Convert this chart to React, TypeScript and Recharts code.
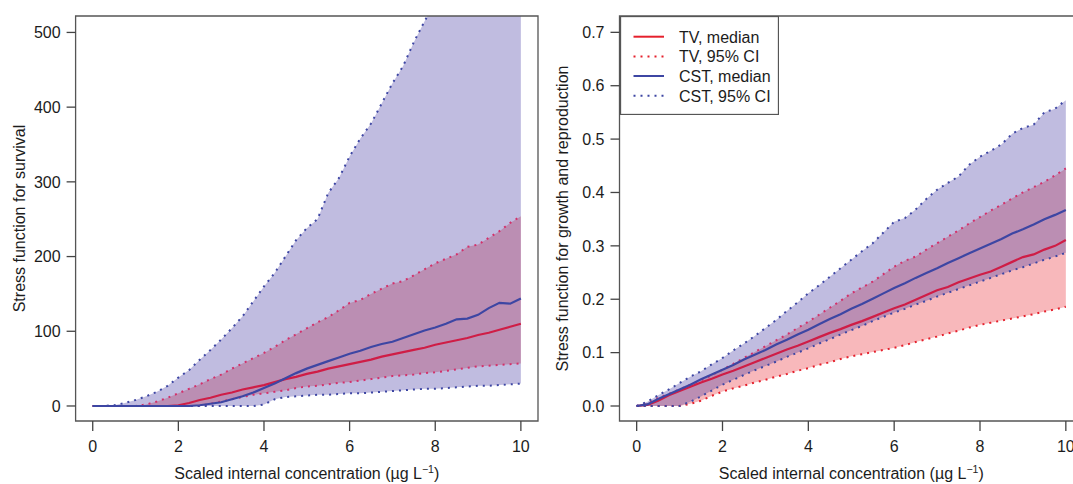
import React from 'react';
import { ComposedChart, Area, Line, XAxis, YAxis, ReferenceArea, Legend } from 'recharts';

// ---------- data ----------
const conc = [0, 0.25, 0.5, 0.75, 1, 1.25, 1.5, 1.75, 2, 2.25, 2.5, 2.75, 3, 3.25, 3.5, 3.75, 4, 4.25, 4.5, 4.75, 5, 5.25, 5.5, 5.75, 6, 6.25, 6.5, 6.75, 7, 7.25, 7.5, 7.75, 8, 8.25, 8.5, 8.75, 9, 9.25, 9.5, 9.75, 10];

// Left panel: stress function for survival
const survTvMedian = [0, 0, 0, 0, 0, 0, 0, 0, 1, 4, 8, 11, 15, 18, 22, 25, 28, 32, 36, 39, 43, 46, 50, 53, 56, 59, 62, 66, 69, 72, 75, 78, 82, 85, 88, 91, 95, 98, 102, 106, 110];
const survTvLow = [0, 0, 0, 0, 0, 0, 0, 0, 0, 0, 0, 3, 6, 9, 12, 15, 17, 19, 21, 24, 26, 27, 29, 31, 32, 34, 36, 38, 40, 41, 42, 44, 45, 47, 49, 51, 53, 54, 55, 56, 57];
const survTvHigh = [0, 0, 0, 0, 0, 2, 6, 11, 17, 23, 29, 36, 42, 50, 57, 64, 71, 79, 88, 96, 104, 112, 119, 128, 138, 142, 150, 157, 164, 167, 175, 183, 191, 197, 203, 213, 216, 225, 234, 245, 254];
const survCstMedian = [0, 0, 0, 0, 0, 0, 0, 0, 0, 0, 1, 3, 5, 9, 13, 18, 24, 30, 37, 44, 50, 55, 60, 65, 70, 74, 79, 83, 86, 91, 96, 101, 105, 110, 116, 117, 122, 131, 138, 137, 144];
const survCstLow = [0, 0, 0, 0, 0, 0, 0, 0, 0, 0, 0, 0, 0, 0, 0, 0, 2, 9, 12, 13, 14, 15, 15, 16, 17, 17, 18, 19, 20, 21, 22, 23, 23, 24, 25, 26, 27, 27, 28, 29, 30];
const survCstHigh = [0, 0, 1, 4, 8, 13, 19, 27, 38, 48, 62, 75, 89, 104, 120, 140, 160, 178, 200, 222, 238, 250, 285, 305, 334, 358, 378, 405, 432, 455, 487, 515, 540, 565, 590, 615, 640, 665, 690, 715, 740];

// Right panel: stress function for growth and reproduction
const grTvMedian = [0, 0.002, 0.01, 0.02, 0.028, 0.036, 0.044, 0.051, 0.059, 0.066, 0.074, 0.082, 0.09, 0.098, 0.106, 0.113, 0.121, 0.129, 0.137, 0.144, 0.152, 0.159, 0.167, 0.175, 0.183, 0.19, 0.199, 0.208, 0.217, 0.223, 0.232, 0.239, 0.246, 0.252, 0.261, 0.27, 0.279, 0.284, 0.293, 0.3, 0.311];
const grTvLow = [0, 0, 0, 0, 0, 0.004, 0.01, 0.019, 0.027, 0.033, 0.038, 0.044, 0.049, 0.055, 0.06, 0.066, 0.071, 0.077, 0.082, 0.088, 0.093, 0.097, 0.101, 0.105, 0.109, 0.114, 0.12, 0.125, 0.13, 0.136, 0.141, 0.147, 0.152, 0.156, 0.16, 0.164, 0.168, 0.172, 0.177, 0.181, 0.186];
const grTvHigh = [0, 0.005, 0.015, 0.023, 0.031, 0.04, 0.048, 0.058, 0.068, 0.079, 0.09, 0.101, 0.112, 0.123, 0.134, 0.146, 0.158, 0.171, 0.184, 0.197, 0.211, 0.222, 0.233, 0.247, 0.261, 0.272, 0.28, 0.293, 0.305, 0.317, 0.329, 0.342, 0.354, 0.366, 0.377, 0.389, 0.4, 0.41, 0.42, 0.432, 0.445];
const grCstMedian = [0, 0.003, 0.013, 0.022, 0.031, 0.04, 0.05, 0.059, 0.068, 0.077, 0.087, 0.096, 0.105, 0.115, 0.124, 0.134, 0.143, 0.153, 0.163, 0.172, 0.182, 0.191, 0.201, 0.211, 0.221, 0.23, 0.24, 0.249, 0.258, 0.268, 0.277, 0.286, 0.295, 0.304, 0.313, 0.323, 0.331, 0.34, 0.35, 0.358, 0.367];
const grCstLow = [0, 0, 0, 0, 0, 0.008, 0.018, 0.029, 0.04, 0.049, 0.058, 0.067, 0.075, 0.083, 0.092, 0.1, 0.108, 0.117, 0.125, 0.134, 0.142, 0.15, 0.159, 0.167, 0.175, 0.182, 0.19, 0.197, 0.205, 0.212, 0.219, 0.226, 0.233, 0.24, 0.247, 0.254, 0.26, 0.267, 0.274, 0.28, 0.287];
const grCstHigh = [0, 0.008, 0.02, 0.031, 0.043, 0.055, 0.065, 0.078, 0.09, 0.104, 0.117, 0.131, 0.146, 0.161, 0.178, 0.194, 0.211, 0.226, 0.242, 0.258, 0.274, 0.29, 0.305, 0.325, 0.345, 0.352, 0.368, 0.388, 0.405, 0.418, 0.43, 0.452, 0.467, 0.478, 0.49, 0.51, 0.521, 0.527, 0.55, 0.557, 0.573];

const xTicks = [0, 2, 4, 6, 8, 10];
const survTicks = [0, 100, 200, 300, 400, 500];
const grTicks = [0, 0.1, 0.2, 0.3, 0.4, 0.5, 0.6, 0.7];
const legendLabels = ['TV, median', 'TV, 95% CI', 'CST, median', 'CST, 95% CI'];
const xTitle = 'Scaled internal concentration (µg L';
const survTitle = 'Stress function for survival';
const grTitle = 'Stress function for growth and reproduction';

// ---------- styles ----------
const FONT = '"Liberation Sans", Arial, Helvetica, sans-serif';
const FS = 16;
const TEXT = '#1c1c1c';
const BOX = '#555555';
const TICK = '#444444';
const RED = '#e5202c';
const RED_UNDER = '#cf1d46';
const RED_DOT_UNDER = '#d3306a';
const BLUE = '#3d46a3';
const PINK = '#f8b8bb';
const BLUE_FILL = '#4a3ea5';
const DOTS = '2 5';

function buildRows(tvMed: number[], tvLow: number[], tvHigh: number[], cstMed: number[], cstLow: number[], cstHigh: number[]) {
  return conc.map((x, i) => ({
    x,
    tvBand: [tvLow[i], tvHigh[i]],
    cstBand: [cstLow[i], cstHigh[i]],
    tvMed: tvMed[i],
    tvLow: tvLow[i],
    tvHigh: tvHigh[i],
    cstMed: cstMed[i],
    cstLow: cstLow[i],
    cstHigh: cstHigh[i],
  }));
}

const survData = buildRows(survTvMedian, survTvLow, survTvHigh, survCstMedian, survCstLow, survCstHigh);
const grData = buildRows(grTvMedian, grTvLow, grTvHigh, grCstMedian, grCstLow, grCstHigh);

function XTitle(props: any) {
  const vb = props.viewBox || { x: 0, y: 0, width: 0, height: 0 };
  const cx = vb.x + vb.width / 2;
  const y = vb.y + 58;
  return (
    <text x={cx} y={y} textAnchor="middle" fontSize={FS} fill={TEXT} fontFamily={FONT}>
      {xTitle}
      <tspan dy={-6} fontSize={10.5}>−1</tspan>
      <tspan dy={6}>)</tspan>
    </text>
  );
}

function makeYTitle(text: string, dx: number) {
  return function YTitle(props: any) {
    const vb = props.viewBox || { x: 0, y: 0, width: 0, height: 0 };
    const x = vb.x + dx;
    const y = vb.y + vb.height / 2;
    return (
      <text x={x} y={y} textAnchor="middle" fontSize={FS} fill={TEXT} fontFamily={FONT} transform={`rotate(-90, ${x}, ${y})`}>
        {text}
      </text>
    );
  };
}

function LegendBox() {
  const rowY = [20.7, 40.5, 60, 79.7];
  const colors = [RED, RED, BLUE, BLUE];
  const dashed = [false, true, false, true];
  return (
    <svg width={159} height={99} style={{ display: 'block' }}>
      <rect x={0.5} y={0.5} width={158} height={98} fill="#ffffff" stroke={BOX} strokeWidth={1.3} />
      {legendLabels.map((lab, i) => (
        <g key={lab}>
          <line x1={13.5} x2={44} y1={rowY[i]} y2={rowY[i]} stroke={colors[i]} strokeWidth={2} strokeDasharray={dashed[i] ? DOTS : undefined} />
          <text x={59} y={rowY[i] + 5.8} fontSize={FS} fill={TEXT} fontFamily={FONT}>{lab}</text>
        </g>
      ))}
    </svg>
  );
}

type PanelProps = {
  data: any[];
  left: number;
  width: number;
  yw: number;
  yDomain: [number, number];
  yTicks: number[];
  yFmt: (v: number) => string;
  yTitle: string;
  yTitleDx: number;
  tvLowColor: string;
  showLegend: boolean;
};

function Panel({ data, left, width, yw, yDomain, yTicks, yFmt, yTitle, yTitleDx, tvLowColor, showLegend }: PanelProps) {
  const YT = makeYTitle(yTitle, yTitleDx);
  return (
    <div style={{ position: 'absolute', left, top: 0 }}>
      <ComposedChart width={width} height={484} data={data} margin={{ top: 16, right: 2, bottom: 0, left: 0 }}>
        <XAxis
          type="number"
          dataKey="x"
          domain={[-0.4, 10.4]}
          ticks={xTicks}
          interval={0}
          allowDataOverflow
          height={63}
          axisLine={false}
          tickLine={{ stroke: TICK, strokeWidth: 1.3 }}
          tickSize={10}
          tickMargin={10}
          tick={{ fill: TEXT, fontSize: FS, fontFamily: FONT }}
          label={{ content: XTitle }}
        />
        <YAxis
          type="number"
          domain={yDomain}
          ticks={yTicks}
          interval={0}
          allowDataOverflow
          width={yw}
          axisLine={false}
          tickLine={{ stroke: TICK, strokeWidth: 1.3 }}
          tickSize={9}
          tickMargin={6}
          tickFormatter={yFmt}
          tick={{ fill: TEXT, fontSize: FS, fontFamily: FONT }}
          label={{ content: YT }}
        />
        <Area type="linear" dataKey="tvBand" fill={PINK} fillOpacity={1} stroke="none" dot={false} activeDot={false} isAnimationActive={false} />
        <Area type="linear" dataKey="cstBand" fill={BLUE_FILL} fillOpacity={0.35} stroke="none" dot={false} activeDot={false} isAnimationActive={false} />
        <Line type="linear" dataKey="tvLow" stroke={tvLowColor} strokeWidth={2} strokeDasharray={DOTS} dot={false} activeDot={false} isAnimationActive={false} />
        <Line type="linear" dataKey="tvHigh" stroke={RED_DOT_UNDER} strokeWidth={2} strokeDasharray={DOTS} dot={false} activeDot={false} isAnimationActive={false} />
        <Line type="linear" dataKey="tvMed" stroke={RED_UNDER} strokeWidth={2.2} dot={false} activeDot={false} isAnimationActive={false} />
        <Line type="linear" dataKey="cstLow" stroke={BLUE} strokeWidth={2} strokeDasharray={DOTS} dot={false} activeDot={false} isAnimationActive={false} />
        <Line type="linear" dataKey="cstHigh" stroke={BLUE} strokeWidth={2} strokeDasharray={DOTS} dot={false} activeDot={false} isAnimationActive={false} />
        <Line type="linear" dataKey="cstMed" stroke={BLUE} strokeWidth={2.2} dot={false} activeDot={false} isAnimationActive={false} />
        <ReferenceArea x1={-0.4} x2={10.4} y1={yDomain[0]} y2={yDomain[1]} fill="none" fillOpacity={0} stroke={BOX} strokeWidth={1.3} ifOverflow="visible" />
        {showLegend && (
          <Legend
            layout="vertical"
            align="center"
            verticalAlign="middle"
            content={() => <LegendBox />}
            wrapperStyle={{ left: yw, top: 16, width: 159, height: 99 }}
          />
        )}
      </ComposedChart>
    </div>
  );
}

export default function App() {
  return (
    <div style={{ position: 'absolute', left: 0, top: 0, width: 1073, height: 484, overflow: 'hidden', background: '#ffffff', fontFamily: FONT }}>
      <Panel
        data={survData}
        left={0}
        width={540}
        yw={75.6}
        yDomain={[-20.1, 522]}
        yTicks={survTicks}
        yFmt={(v) => String(v)}
        yTitle={survTitle}
        yTitleDx={24.5}
        tvLowColor={RED_DOT_UNDER}
        showLegend={false}
      />
      <Panel
        data={grData}
        left={540}
        width={545}
        yw={79.5}
        yDomain={[-0.0281, 0.7306]}
        yTicks={grTicks}
        yFmt={(v) => v.toFixed(1)}
        yTitle={grTitle}
        yTitleDx={28}
        tvLowColor={RED}
        showLegend={true}
      />
    </div>
  );
}
